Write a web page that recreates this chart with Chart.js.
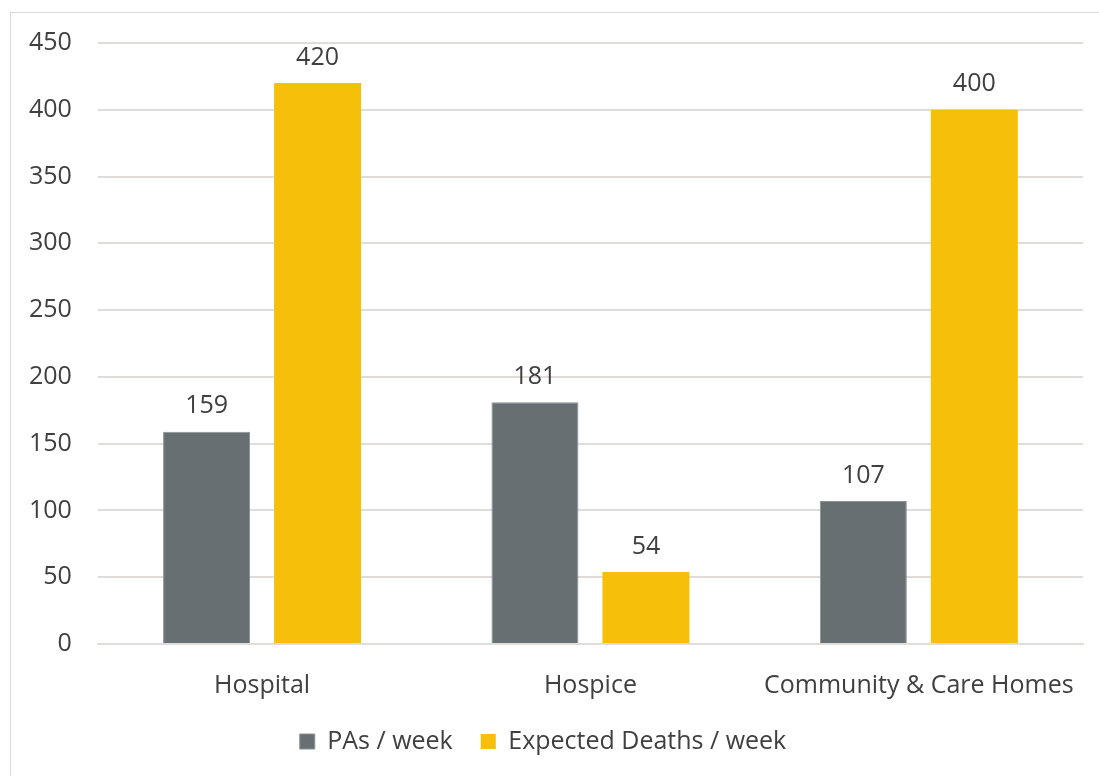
<!DOCTYPE html>
<html>
<head>
<meta charset="utf-8">
<script src="https://cdn.jsdelivr.net/npm/chart.js@4/dist/chart.umd.min.js"></script>
<style>
  html, body { margin: 0; padding: 0; background: #fff; }
  #frame {
    position: absolute; left: 10px; top: 12px;
    width: 1100px; height: 780px;
    border: 1px solid #d9d9d9;
    box-sizing: border-box;
  }
  #wrap { position: absolute; left: 0; top: 0; width: 1099px; height: 776px; }
</style>
</head>
<body>
<div id="frame"></div>
<div id="wrap"><canvas id="myChart"></canvas></div>
<script>
"use strict";

const categories = ["Hospital", "Hospice", "Community & Care Homes"];
const paPerWeek = [159, 181, 107];
const deathsPerWeek = [420, 54, 400];
const yTicks = [0, 50, 100, 150, 200, 250, 300, 350, 400, 450];

const textColor = "#404040";
const fontFamily = "'Open Sans', 'Noto Sans', sans-serif";
const fontSize = 25;

// prints each bar's value just above it
const valueLabels = {
	id: "valueLabels",
	afterDatasetsDraw(chart) {
		const ctx = chart.ctx;
		ctx.save();
		ctx.fillStyle = textColor;
		ctx.font = fontSize + "px " + fontFamily;
		ctx.textAlign = "center";
		ctx.textBaseline = "bottom";
		chart.data.datasets.forEach(function (ds, i) {
			chart.getDatasetMeta(i).data.forEach(function (bar, j) {
				ctx.fillText(String(ds.data[j]), bar.x, bar.y - 13);
			});
		});
		ctx.restore();
	},
};

function generateChart() {
	const ctx = document.getElementById("myChart");

	new Chart(ctx, {
		type: "bar",
		data: {
			labels: categories,
			datasets: [
				{
					label: "PAs / week",
					data: paPerWeek,
					backgroundColor: "#686f72",
					borderColor: "#8a9093",
					borderWidth: 1,
				},
				{
					label: "Expected Deaths / week",
					data: deathsPerWeek,
					backgroundColor: "#f5bf0a",
					borderWidth: 0,
				},
			],
		},
		plugins: [valueLabels],
		options: {
			responsive: true,
			maintainAspectRatio: false,
			animation: false,
			datasets: {
				bar: {
					categoryPercentage: 0.676,
					barPercentage: 0.784,
				},
			},
			layout: {
				padding: { top: 43, right: 16, left: 3, bottom: 12 },
			},
			plugins: {
				tooltip: { enabled: false },
				legend: {
					position: "bottom",
					labels: {
						color: textColor,
						font: { family: fontFamily, size: fontSize },
						boxWidth: 15,
						boxHeight: 15,
						padding: 28,
					},
				},
			},
			scales: {
				x: {
					grid: { display: false },
					border: { display: true, color: "#e0dcd9", width: 2 },
					ticks: {
						color: textColor,
						font: { family: fontFamily, size: fontSize },
						padding: 19,
					},
					afterFit(scale) {
						scale.height = 57;
					},
				},
				y: {
					min: 0,
					max: 450,
					afterBuildTicks(axis) {
						axis.ticks = yTicks.map(function (v) {
							return { value: v };
						});
					},
					grid: { color: "#e0dcd9", lineWidth: 2, drawTicks: false },
					border: { display: false },
					ticks: {
						color: textColor,
						font: { family: fontFamily, size: fontSize },
						padding: 26,
					},
				},
			},
		},
	});
}

generateChart();
</script>
</body>
</html>
